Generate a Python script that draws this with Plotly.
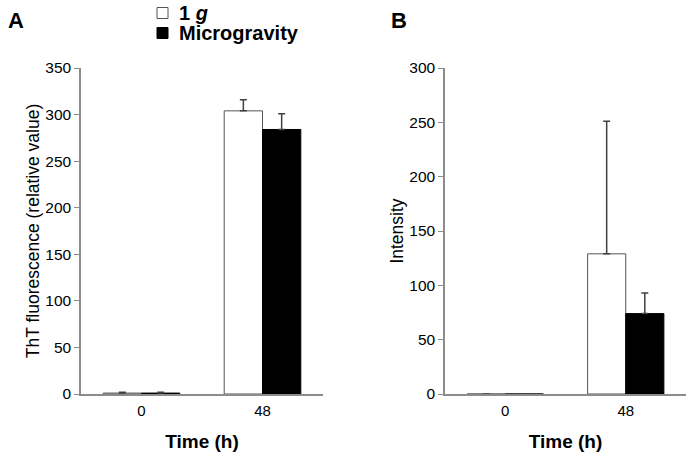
import plotly.graph_objects as go

times = ["0", "48"]
# Panel A: ThT fluorescence
a_1g = [1, 304]
a_1g_err = [1, 12]
a_micro = [1, 284]
a_micro_err = [1, 17]
# Panel B: Intensity
b_1g = [0, 129]
b_1g_err = [0, 122]
b_micro = [0, 74]
b_micro_err = [0, 19]
series_names = ["<b>1 <i>g</i></b>", "<b>Microgravity</b>"]

W, H = 689, 456
FONT = "Liberation Sans, Arial, sans-serif"
AX = "#8c8c8c"
EB = "#404040"
FILLS = ["white", "black"]
LINES = ["#555555", "black"]

fig = go.Figure()

def add_bar(x, y, err, name, fill, line, xa, ya):
    fig.add_trace(go.Bar(
        x=x, y=y, name=name, showlegend=False,
        marker=dict(color=fill, line=dict(color=line, width=1)),
        error_y=dict(type="data", symmetric=False, array=err, arrayminus=[0]*len(err),
                     color=EB, thickness=1.5, width=3.5),
        xaxis=xa, yaxis=ya))

add_bar(times, a_1g, a_1g_err, series_names[0], FILLS[0], LINES[0], "x", "y")
add_bar(times, a_micro, a_micro_err, series_names[1], FILLS[1], LINES[1], "x", "y")
add_bar(times, b_1g, b_1g_err, series_names[0], FILLS[0], LINES[0], "x2", "y2")
add_bar(times, b_micro, b_micro_err, series_names[1], FILLS[1], LINES[1], "x2", "y2")

ydom = [62/H, 388/H]
common_x = dict(type="category", showline=True, linecolor=AX, linewidth=1.5, ticks="",
                tickfont=dict(family=FONT, size=15, color="black"), range=[-0.5, 1.5],
                showgrid=False, zeroline=False, automargin=False, ticklabelstandoff=2)
common_y = dict(showline=True, linecolor=AX, linewidth=1.5, ticks="outside", ticklen=5,
                tickcolor=AX, tickwidth=1, dtick=50, showgrid=False, zeroline=False,
                tickfont=dict(family=FONT, size=15.5, color="black"), automargin=False)

# manual legend (squares + labels)
shapes = []
annotations = []
for i, (nm, fc, lc) in enumerate(zip(series_names, FILLS, LINES)):
    cy = 13 + 20 * i
    shapes.append(dict(type="rect", xref="paper", yref="paper",
                       x0=157/W, x1=168/W, y0=1-(cy+5.5)/H, y1=1-(cy-5.5)/H,
                       fillcolor=fc, line=dict(color=lc, width=1)))
    annotations.append(dict(text=nm, x=177/W, y=1-cy/H, xref="paper", yref="paper",
                            xanchor="left", yanchor="middle", showarrow=False,
                            font=dict(family=FONT, size=20, color="black")))

annotations += [
    dict(text="<b>A</b>", x=6/W, y=1-21/H, xref="paper", yref="paper", xanchor="left", yanchor="middle",
         showarrow=False, font=dict(family=FONT, size=22)),
    dict(text="<b>B</b>", x=389/W, y=1-21/H, xref="paper", yref="paper", xanchor="left", yanchor="middle",
         showarrow=False, font=dict(family=FONT, size=22)),
]

fig.update_layout(
    width=W, height=H, margin=dict(l=0, r=0, t=0, b=0, autoexpand=False),
    plot_bgcolor="white", paper_bgcolor="white",
    barmode="group", bargap=0.367, bargroupgap=0,
    font=dict(family=FONT, color="black"),
    showlegend=False,
    xaxis=dict(domain=[81/W, 323/W], anchor="y",
               title=dict(text="<b>Time (h)</b>", font=dict(family=FONT, size=19), standoff=17),
               **common_x),
    yaxis=dict(domain=ydom, anchor="x", range=[0, 350],
               title=dict(text="ThT fluorescence (relative value)", font=dict(family=FONT, size=17.5), standoff=1),
               **common_y),
    xaxis2=dict(domain=[445/W, 686/W], anchor="y2",
                title=dict(text="<b>Time (h)</b>", font=dict(family=FONT, size=19), standoff=17),
                **common_x),
    yaxis2=dict(domain=ydom, anchor="x2", range=[0, 300],
                title=dict(text="Intensity", font=dict(family=FONT, size=17.5), standoff=1),
                **common_y),
    shapes=shapes,
    annotations=annotations,
)

fig.write_html("out.html", config={"displayModeBar": False},
               post_script="document.body.style.margin='0';")
